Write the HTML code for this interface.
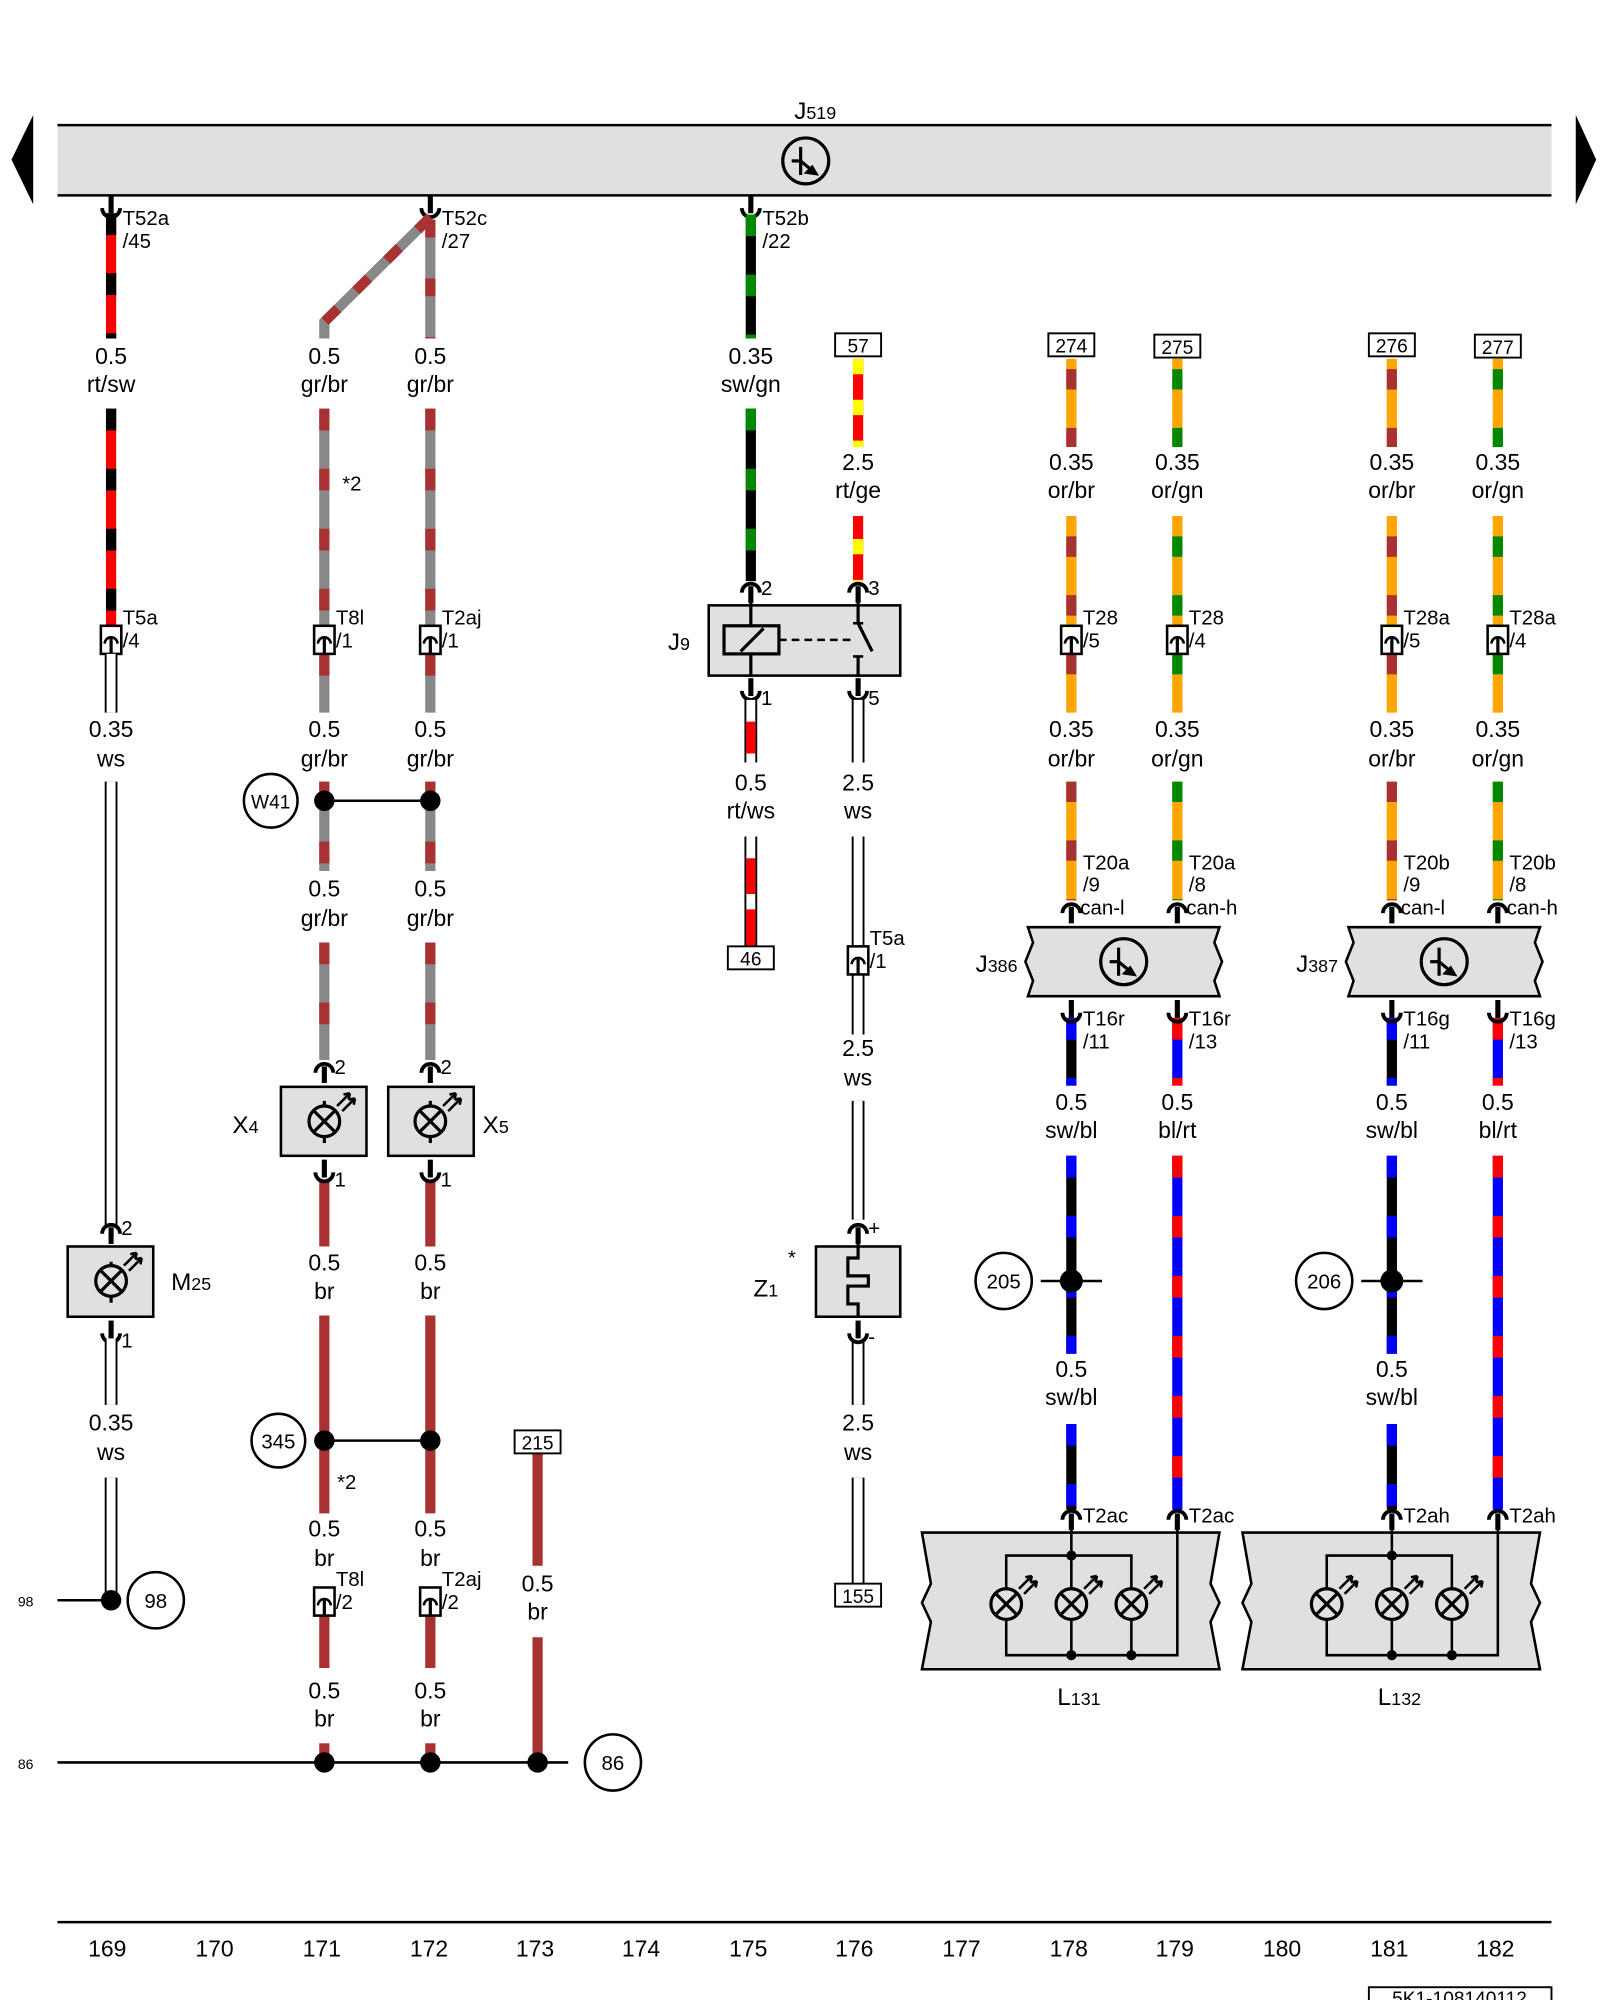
<!DOCTYPE html>
<html><head><meta charset="utf-8"><style>
html,body{margin:0;padding:0;background:#fff}
svg{display:block}
text{font-family:"Liberation Sans",sans-serif;fill:#000}
.t{font-size:18px;text-anchor:middle}
.s{font-size:16px}
.x{font-size:11px}
</style></head><body>
<svg width="1600" height="2000" viewBox="0 0 1253 1566" preserveAspectRatio="none" xmlns="http://www.w3.org/2000/svg">
<defs>
<g id="cd"><path d="M-7,1 A7,7 0 0 0 7,1" fill="none" stroke="#000" stroke-width="3"/><line x1="0" y1="-9" x2="0" y2="5" stroke="#000" stroke-width="4"/></g>
<g id="cu"><path d="M-7,4 A7,7 0 0 1 7,4" fill="none" stroke="#000" stroke-width="3"/><line x1="0" y1="-1" x2="0" y2="12" stroke="#000" stroke-width="4"/></g>
<g id="ib"><rect x="-8" y="-11" width="16" height="22" fill="#fff" stroke="#000" stroke-width="2"/><path d="M-5,3 A5,5 0 0 1 5,3" fill="none" stroke="#000" stroke-width="2"/><line x1="0" y1="-1" x2="0" y2="11" stroke="#000" stroke-width="2.5"/></g>
<g id="lamp" fill="none" stroke="#000" stroke-width="2.5"><circle r="12" fill="#e0e0e0"/><line x1="-8" y1="-8" x2="8" y2="8"/><line x1="-8" y1="8" x2="8" y2="-8"/><path d="M10,-12 L20,-22 M14,-8 L24,-18" stroke-width="2"/><path d="M20,-22 l-5,1 M20,-22 l-1,5 M24,-18 l-5,1 M24,-18 l-1,5" stroke-width="2"/></g>
<g id="ecu" fill="none" stroke="#000" stroke-width="2.5"><circle r="18"/><line x1="-4" y1="-11" x2="-4" y2="11"/><line x1="-11" y1="0" x2="-4" y2="0"/><line x1="-4" y1="0" x2="8" y2="10"/><path d="M8,10 l-7,-1 l4,-4 z" fill="#000"/></g>
</defs>

<!-- J519 bar -->
<rect x="45" y="98" width="1170" height="55" fill="#e0e0e0"/>
<line x1="45" y1="98" x2="1215" y2="98" stroke="#000" stroke-width="2"/>
<line x1="45" y1="153" x2="1215" y2="153" stroke="#000" stroke-width="2"/>
<polygon points="9,125 26,90 26,160" fill="#000"/>
<polygon points="1250,125 1234,90 1234,160" fill="#000"/>
<text x="622" y="93" style="font-size:19px">J<tspan style="font-size:14px">519</tspan></text>
<use href="#ecu" x="631" y="126"/>

<!-- ===== column 169 (x=87) ===== -->
<use href="#cd" x="87" y="162"/>
<line x1="87" y1="167" x2="87" y2="265" stroke="#f00" stroke-width="8"/><line x1="87" y1="167" x2="87" y2="265" stroke="#000" stroke-width="8" stroke-dasharray="17 30"/>
<text class="s" x="96" y="176">T52a</text><text class="s" x="96" y="194">/45</text>
<text class="t" x="87" y="285">0.5</text><text class="t" x="87" y="307">rt/sw</text>
<line x1="87" y1="320" x2="87" y2="490" stroke="#f00" stroke-width="8"/><line x1="87" y1="320" x2="87" y2="490" stroke="#000" stroke-width="8" stroke-dasharray="17 30"/>
<use href="#ib" x="87" y="501"/><text class="s" x="96" y="489">T5a</text><text class="s" x="96" y="507">/4</text>
<line x1="87" y1="512" x2="87" y2="558" stroke="#000" stroke-width="10"/><line x1="87" y1="512" x2="87" y2="558" stroke="#fff" stroke-width="7"/>
<text class="t" x="87" y="577">0.35</text><text class="t" x="87" y="600">ws</text>
<line x1="87" y1="612" x2="87" y2="960" stroke="#000" stroke-width="10"/><line x1="87" y1="612" x2="87" y2="960" stroke="#fff" stroke-width="7"/>
<rect x="53" y="976" width="67" height="55" fill="#e0e0e0" stroke="#000" stroke-width="2"/>
<use href="#cu" x="87" y="962"/><text class="s" x="95" y="967">2</text>
<line x1="87" y1="988" x2="87" y2="1020" stroke="#000" stroke-width="2.5"/>
<use href="#lamp" x="87" y="1003"/>
<use href="#cd" x="87" y="1043"/><text class="s" x="95" y="1055">1</text>
<text x="134" y="1010" style="font-size:19px">M<tspan style="font-size:14px">25</tspan></text>
<line x1="87" y1="1048" x2="87" y2="1100" stroke="#000" stroke-width="10"/><line x1="87" y1="1048" x2="87" y2="1100" stroke="#fff" stroke-width="7"/>
<text class="t" x="87" y="1120">0.35</text><text class="t" x="87" y="1143">ws</text>
<line x1="87" y1="1157" x2="87" y2="1250" stroke="#000" stroke-width="10"/><line x1="87" y1="1157" x2="87" y2="1250" stroke="#fff" stroke-width="7"/>
<line x1="45" y1="1253" x2="87" y2="1253" stroke="#000" stroke-width="2"/>
<circle cx="87" cy="1253" r="8" fill="#000"/>
<circle cx="122" cy="1253" r="22" fill="#fff" stroke="#000" stroke-width="2"/><text class="t" x="122" y="1259" style="font-size:16px">98</text>
<text class="x" x="14" y="1258">98</text>

<!-- ===== columns 171/172 ===== -->
<use href="#cd" x="337" y="162"/>
<text class="s" x="346" y="176">T52c</text><text class="s" x="346" y="194">/27</text>
<polyline points="337,170 254,252 254,265" fill="none" stroke="#888" stroke-width="8"/>
<polyline points="337,170 254,252 254,265" fill="none" stroke="#a83232" stroke-width="8" stroke-dasharray="14 20"/>
<line x1="337" y1="172" x2="337" y2="265" stroke="#888" stroke-width="8"/><line x1="337" y1="172" x2="337" y2="265" stroke="#a83232" stroke-width="8" stroke-dasharray="14 32"/>
<text class="t" x="254" y="285">0.5</text><text class="t" x="254" y="307">gr/br</text>
<text class="t" x="337" y="285">0.5</text><text class="t" x="337" y="307">gr/br</text>
<g stroke-width="8">
<line x1="254" y1="320" x2="254" y2="490" stroke="#888"/><line x1="254" y1="320" x2="254" y2="490" stroke="#a83232" stroke-dasharray="17 30"/>
<line x1="337" y1="320" x2="337" y2="490" stroke="#888"/><line x1="337" y1="320" x2="337" y2="490" stroke="#a83232" stroke-dasharray="17 30"/>
<line x1="254" y1="512" x2="254" y2="558" stroke="#888"/><line x1="254" y1="512" x2="254" y2="558" stroke="#a83232" stroke-dasharray="17 30"/>
<line x1="337" y1="512" x2="337" y2="558" stroke="#888"/><line x1="337" y1="512" x2="337" y2="558" stroke="#a83232" stroke-dasharray="17 30"/>
<line x1="254" y1="612" x2="254" y2="682" stroke="#888"/><line x1="254" y1="612" x2="254" y2="682" stroke="#a83232" stroke-dasharray="17 30"/>
<line x1="337" y1="612" x2="337" y2="682" stroke="#888"/><line x1="337" y1="612" x2="337" y2="682" stroke="#a83232" stroke-dasharray="17 30"/>
<line x1="254" y1="738" x2="254" y2="830" stroke="#888"/><line x1="254" y1="738" x2="254" y2="830" stroke="#a83232" stroke-dasharray="17 30"/>
<line x1="337" y1="738" x2="337" y2="830" stroke="#888"/><line x1="337" y1="738" x2="337" y2="830" stroke="#a83232" stroke-dasharray="17 30"/>
<g stroke="#a83232">
<line x1="254" y1="925" x2="254" y2="976"/><line x1="337" y1="925" x2="337" y2="976"/>
<line x1="254" y1="1030" x2="254" y2="1185"/><line x1="337" y1="1030" x2="337" y2="1185"/>
<line x1="254" y1="1265" x2="254" y2="1306"/><line x1="337" y1="1265" x2="337" y2="1306"/>
<line x1="254" y1="1365" x2="254" y2="1380"/><line x1="337" y1="1365" x2="337" y2="1380"/>
<line x1="421" y1="1138" x2="421" y2="1226"/><line x1="421" y1="1282" x2="421" y2="1380"/>
</g></g>
<text class="s" x="268" y="384">*2</text>
<use href="#ib" x="254" y="501"/><text class="s" x="263" y="489">T8l</text><text class="s" x="263" y="507">/1</text>
<use href="#ib" x="337" y="501"/><text class="s" x="346" y="489">T2aj</text><text class="s" x="346" y="507">/1</text>
<text class="t" x="254" y="577">0.5</text><text class="t" x="254" y="600">gr/br</text>
<text class="t" x="337" y="577">0.5</text><text class="t" x="337" y="600">gr/br</text>
<line x1="254" y1="627" x2="337" y2="627" stroke="#000" stroke-width="2"/>
<circle cx="254" cy="627" r="8" fill="#000"/><circle cx="337" cy="627" r="8" fill="#000"/>
<circle cx="212" cy="627" r="21" fill="#fff" stroke="#000" stroke-width="2"/><text class="t" x="212" y="633" style="font-size:15px">W41</text>
<text class="t" x="254" y="702">0.5</text><text class="t" x="254" y="725">gr/br</text>
<text class="t" x="337" y="702">0.5</text><text class="t" x="337" y="725">gr/br</text>
<rect x="220" y="851" width="67" height="54" fill="#e0e0e0" stroke="#000" stroke-width="2"/>
<rect x="304" y="851" width="67" height="54" fill="#e0e0e0" stroke="#000" stroke-width="2"/>
<use href="#cu" x="254" y="836"/><text class="s" x="262" y="841">2</text>
<use href="#cu" x="337" y="836"/><text class="s" x="345" y="841">2</text>
<line x1="254" y1="862" x2="254" y2="895" stroke="#000" stroke-width="2.5"/><line x1="337" y1="862" x2="337" y2="895" stroke="#000" stroke-width="2.5"/>
<use href="#lamp" x="254" y="878"/><use href="#lamp" x="337" y="878"/>
<use href="#cd" x="254" y="917"/><text class="s" x="262" y="929">1</text>
<use href="#cd" x="337" y="917"/><text class="s" x="345" y="929">1</text>
<text x="182" y="887" style="font-size:19px">X<tspan style="font-size:14px">4</tspan></text>
<text x="378" y="887" style="font-size:19px">X<tspan style="font-size:14px">5</tspan></text>
<text class="t" x="254" y="995">0.5</text><text class="t" x="254" y="1017">br</text>
<text class="t" x="337" y="995">0.5</text><text class="t" x="337" y="1017">br</text>
<line x1="254" y1="1128" x2="337" y2="1128" stroke="#000" stroke-width="2"/>
<circle cx="254" cy="1128" r="8" fill="#000"/><circle cx="337" cy="1128" r="8" fill="#000"/>
<circle cx="218" cy="1128" r="21" fill="#fff" stroke="#000" stroke-width="2"/><text class="t" x="218" y="1134" style="font-size:16px">345</text>
<text class="s" x="264" y="1166">*2</text>
<rect x="236" y="1188" width="36" height="40" fill="#fff"/><rect x="319" y="1188" width="36" height="40" fill="#fff"/>
<text class="t" x="254" y="1203">0.5</text><text class="t" x="254" y="1226">br</text>
<text class="t" x="337" y="1203">0.5</text><text class="t" x="337" y="1226">br</text>
<use href="#ib" x="254" y="1254"/><text class="s" x="263" y="1242">T8l</text><text class="s" x="263" y="1260">/2</text>
<use href="#ib" x="337" y="1254"/><text class="s" x="346" y="1242">T2aj</text><text class="s" x="346" y="1260">/2</text>
<text class="t" x="254" y="1330">0.5</text><text class="t" x="254" y="1352">br</text>
<text class="t" x="337" y="1330">0.5</text><text class="t" x="337" y="1352">br</text>
<rect x="403" y="1120" width="36" height="18" fill="#fff" stroke="#000" stroke-width="1.5"/><text class="t" x="421" y="1135" style="font-size:15px">215</text>
<text class="t" x="421" y="1246">0.5</text><text class="t" x="421" y="1268">br</text>
<line x1="45" y1="1380" x2="445" y2="1380" stroke="#000" stroke-width="2"/>
<circle cx="254" cy="1380" r="8" fill="#000"/><circle cx="337" cy="1380" r="8" fill="#000"/><circle cx="421" cy="1380" r="8" fill="#000"/>
<circle cx="480" cy="1380" r="22" fill="#fff" stroke="#000" stroke-width="2"/><text class="t" x="480" y="1386" style="font-size:16px">86</text>
<text class="x" x="14" y="1385">86</text>

<!-- ===== columns 175/176 ===== -->
<use href="#cd" x="588" y="162"/>
<text class="s" x="597" y="176">T52b</text><text class="s" x="597" y="194">/22</text>
<g stroke-width="8">
<line x1="588" y1="168" x2="588" y2="265" stroke="#000"/><line x1="588" y1="168" x2="588" y2="265" stroke="#080" stroke-dasharray="17 30"/>
<line x1="588" y1="320" x2="588" y2="455" stroke="#000"/><line x1="588" y1="320" x2="588" y2="455" stroke="#080" stroke-dasharray="17 30"/>
<line x1="672" y1="281" x2="672" y2="350" stroke="#f00"/><line x1="672" y1="281" x2="672" y2="350" stroke="#ff0" stroke-dasharray="12 20"/>
<line x1="672" y1="404" x2="672" y2="455" stroke="#f00"/><line x1="672" y1="404" x2="672" y2="455" stroke="#ff0" stroke-dasharray="12 20" stroke-dashoffset="-18"/>
</g>
<text class="t" x="588" y="285">0.35</text><text class="t" x="588" y="307">sw/gn</text>
<rect x="654" y="261" width="36" height="18" fill="#fff" stroke="#000" stroke-width="1.5"/><text class="t" x="672" y="276" style="font-size:15px">57</text>
<text class="t" x="672" y="368">2.5</text><text class="t" x="672" y="390">rt/ge</text>
<rect x="555" y="474" width="150" height="55" fill="#e0e0e0" stroke="#000" stroke-width="2"/>
<use href="#cu" x="588" y="460"/><text class="s" x="596" y="466">2</text>
<use href="#cu" x="672" y="460"/><text class="s" x="680" y="466">3</text>
<line x1="588" y1="472" x2="588" y2="530" stroke="#000" stroke-width="2.5"/>
<rect x="567" y="490" width="43" height="22" fill="#e0e0e0" stroke="#000" stroke-width="2.5"/>
<line x1="580" y1="510" x2="598" y2="492" stroke="#000" stroke-width="2.5"/>
<line x1="610" y1="501" x2="668" y2="501" stroke="#000" stroke-width="2" stroke-dasharray="6 4"/>
<line x1="672" y1="472" x2="672" y2="488" stroke="#000" stroke-width="2.5"/>
<line x1="668" y1="488" x2="676" y2="488" stroke="#000" stroke-width="2"/>
<line x1="672" y1="488" x2="683" y2="510" stroke="#000" stroke-width="2.5"/>
<line x1="672" y1="514" x2="672" y2="530" stroke="#000" stroke-width="2.5"/>
<line x1="668" y1="514" x2="676" y2="514" stroke="#000" stroke-width="2"/>
<text x="523" y="509" style="font-size:19px">J<tspan style="font-size:14px">9</tspan></text>
<use href="#cd" x="588" y="540"/><text class="s" x="596" y="552">1</text>
<use href="#cd" x="672" y="540"/><text class="s" x="680" y="552">5</text>
<g>
<line x1="588" y1="548" x2="588" y2="597" stroke="#000" stroke-width="10"/><line x1="588" y1="548" x2="588" y2="597" stroke="#fff" stroke-width="7"/><line x1="588" y1="565" x2="588" y2="590" stroke="#f00" stroke-width="7"/>
<line x1="588" y1="655" x2="588" y2="741" stroke="#000" stroke-width="10"/><line x1="588" y1="655" x2="588" y2="741" stroke="#fff" stroke-width="7"/><line x1="588" y1="672" x2="588" y2="700" stroke="#f00" stroke-width="7"/><line x1="588" y1="712" x2="588" y2="741" stroke="#f00" stroke-width="7"/>
<line x1="672" y1="548" x2="672" y2="597" stroke="#000" stroke-width="10"/><line x1="672" y1="548" x2="672" y2="597" stroke="#fff" stroke-width="7"/>
<line x1="672" y1="655" x2="672" y2="810" stroke="#000" stroke-width="10"/><line x1="672" y1="655" x2="672" y2="810" stroke="#fff" stroke-width="7"/>
<line x1="672" y1="862" x2="672" y2="955" stroke="#000" stroke-width="10"/><line x1="672" y1="862" x2="672" y2="955" stroke="#fff" stroke-width="7"/>
<line x1="672" y1="1048" x2="672" y2="1100" stroke="#000" stroke-width="10"/><line x1="672" y1="1048" x2="672" y2="1100" stroke="#fff" stroke-width="7"/>
<line x1="672" y1="1157" x2="672" y2="1240" stroke="#000" stroke-width="10"/><line x1="672" y1="1157" x2="672" y2="1240" stroke="#fff" stroke-width="7"/>
</g>
<text class="t" x="588" y="619">0.5</text><text class="t" x="588" y="641">rt/ws</text>
<text class="t" x="672" y="619">2.5</text><text class="t" x="672" y="641">ws</text>
<rect x="570" y="741" width="36" height="18" fill="#fff" stroke="#000" stroke-width="1.5"/><text class="t" x="588" y="756" style="font-size:15px">46</text>
<use href="#ib" x="672" y="752"/><text class="s" x="681" y="740">T5a</text><text class="s" x="681" y="758">/1</text>
<text class="t" x="672" y="827">2.5</text><text class="t" x="672" y="850">ws</text>
<rect x="639" y="976" width="66" height="55" fill="#e0e0e0" stroke="#000" stroke-width="2"/>
<use href="#cu" x="672" y="962"/><text class="s" x="680" y="967">+</text>
<path d="M672,974 V985 H664 V999 H680 V1007 H664 V1021 H672 V1032" fill="none" stroke="#000" stroke-width="2.5"/>
<use href="#cd" x="672" y="1043"/><text class="s" x="680" y="1052">-</text>
<text x="590" y="1015" style="font-size:19px">Z<tspan style="font-size:14px">1</tspan></text><text class="s" x="617" y="990">*</text>
<text class="t" x="672" y="1120">2.5</text><text class="t" x="672" y="1143">ws</text>
<rect x="654" y="1240" width="36" height="18" fill="#fff" stroke="#000" stroke-width="1.5"/><text class="t" x="672" y="1255" style="font-size:15px">155</text>

<!-- ===== CAN columns ===== -->
<g id="canA">
<g stroke-width="8">
<line x1="839" y1="281" x2="839" y2="350" stroke="#ffa500"/><line x1="839" y1="281" x2="839" y2="350" stroke="#a83232" stroke-dasharray="16 30" stroke-dashoffset="-8"/>
<line x1="839" y1="404" x2="839" y2="490" stroke="#ffa500"/><line x1="839" y1="404" x2="839" y2="490" stroke="#a83232" stroke-dasharray="16 30" stroke-dashoffset="-16"/>
<line x1="839" y1="512" x2="839" y2="558" stroke="#ffa500"/><line x1="839" y1="512" x2="839" y2="558" stroke="#a83232" stroke-dasharray="16 30"/>
<line x1="839" y1="612" x2="839" y2="705" stroke="#ffa500"/><line x1="839" y1="612" x2="839" y2="705" stroke="#a83232" stroke-dasharray="16 30"/>
<line x1="922" y1="281" x2="922" y2="350" stroke="#ffa500"/><line x1="922" y1="281" x2="922" y2="350" stroke="#080" stroke-dasharray="16 30" stroke-dashoffset="-8"/>
<line x1="922" y1="404" x2="922" y2="490" stroke="#ffa500"/><line x1="922" y1="404" x2="922" y2="490" stroke="#080" stroke-dasharray="16 30" stroke-dashoffset="-16"/>
<line x1="922" y1="512" x2="922" y2="558" stroke="#ffa500"/><line x1="922" y1="512" x2="922" y2="558" stroke="#080" stroke-dasharray="16 30"/>
<line x1="922" y1="612" x2="922" y2="705" stroke="#ffa500"/><line x1="922" y1="612" x2="922" y2="705" stroke="#080" stroke-dasharray="16 30"/>
<line x1="839" y1="797" x2="839" y2="850" stroke="#000"/><line x1="839" y1="797" x2="839" y2="850" stroke="#00f" stroke-dasharray="17 30"/>
<line x1="839" y1="905" x2="839" y2="1060" stroke="#000"/><line x1="839" y1="905" x2="839" y2="1060" stroke="#00f" stroke-dasharray="17 30"/>
<line x1="839" y1="1115" x2="839" y2="1182" stroke="#000"/><line x1="839" y1="1115" x2="839" y2="1182" stroke="#00f" stroke-dasharray="17 30"/>
<line x1="922" y1="797" x2="922" y2="850" stroke="#00f"/><line x1="922" y1="797" x2="922" y2="850" stroke="#f00" stroke-dasharray="17 30"/>
<line x1="922" y1="905" x2="922" y2="1182" stroke="#00f"/><line x1="922" y1="905" x2="922" y2="1182" stroke="#f00" stroke-dasharray="17 30"/>
</g>
<rect x="821" y="261" width="36" height="18" fill="#fff" stroke="#000" stroke-width="1.5"/>
<rect x="904" y="262" width="36" height="18" fill="#fff" stroke="#000" stroke-width="1.5"/>
<text class="t" x="839" y="368">0.35</text><text class="t" x="839" y="390">or/br</text>
<text class="t" x="922" y="368">0.35</text><text class="t" x="922" y="390">or/gn</text>
<use href="#ib" x="839" y="501"/><use href="#ib" x="922" y="501"/>
<text class="t" x="839" y="577">0.35</text><text class="t" x="839" y="600">or/br</text>
<text class="t" x="922" y="577">0.35</text><text class="t" x="922" y="600">or/gn</text>
<use href="#cu" x="839" y="711"/><use href="#cu" x="922" y="711"/>
<polygon points="805,726 955,726 951,738 957,753 951,768 955,780 805,780 809,768 803,753 809,738" fill="#e0e0e0" stroke="#000" stroke-width="2"/>
<use href="#ecu" x="880" y="753"/>
<use href="#cd" x="839" y="792"/><use href="#cd" x="922" y="792"/>
<text class="t" x="839" y="869">0.5</text><text class="t" x="839" y="891">sw/bl</text>
<text class="t" x="922" y="869">0.5</text><text class="t" x="922" y="891">bl/rt</text>
<line x1="815" y1="1003" x2="863" y2="1003" stroke="#000" stroke-width="2"/>
<circle cx="839" cy="1003" r="9" fill="#000"/>
<text class="t" x="839" y="1078">0.5</text><text class="t" x="839" y="1100">sw/bl</text>
<use href="#cu" x="839" y="1186"/><use href="#cu" x="922" y="1186"/>
<polygon points="722,1200 955,1200 948,1240 955,1255 948,1270 955,1307 722,1307 729,1270 722,1255 729,1240" fill="#e0e0e0" stroke="#000" stroke-width="2"/>
<g fill="none" stroke="#000" stroke-width="2">
<line x1="839" y1="1198" x2="839" y2="1296"/>
<path d="M922,1198 V1296 H788 V1218 H886 V1296"/>
</g>
<circle cx="839" cy="1218" r="4" fill="#000"/><circle cx="839" cy="1296" r="4" fill="#000"/><circle cx="886" cy="1296" r="4" fill="#000"/>
<use href="#lamp" x="788" y="1256"/><use href="#lamp" x="839" y="1256"/><use href="#lamp" x="886" y="1256"/>
</g>
<use href="#canA" x="251" y="0"/>

<text class="t" x="839" y="276" style="font-size:15px">274</text>
<text class="t" x="922" y="277" style="font-size:15px">275</text>
<text class="t" x="1090" y="276" style="font-size:15px">276</text>
<text class="t" x="1173" y="277" style="font-size:15px">277</text>
<text class="s" x="848" y="489">T28</text><text class="s" x="848" y="507">/5</text>
<text class="s" x="931" y="489">T28</text><text class="s" x="931" y="507">/4</text>
<text class="s" x="1099" y="489">T28a</text><text class="s" x="1099" y="507">/5</text>
<text class="s" x="1182" y="489">T28a</text><text class="s" x="1182" y="507">/4</text>
<text class="s" x="848" y="681">T20a</text><text class="s" x="848" y="698">/9</text><text class="s" x="846" y="716">can-l</text>
<text class="s" x="931" y="681">T20a</text><text class="s" x="931" y="698">/8</text><text class="s" x="929" y="716">can-h</text>
<text class="s" x="1099" y="681">T20b</text><text class="s" x="1099" y="698">/9</text><text class="s" x="1097" y="716">can-l</text>
<text class="s" x="1182" y="681">T20b</text><text class="s" x="1182" y="698">/8</text><text class="s" x="1180" y="716">can-h</text>
<text x="764" y="761" style="font-size:19px">J<tspan style="font-size:14px">386</tspan></text>
<text x="1015" y="761" style="font-size:19px">J<tspan style="font-size:14px">387</tspan></text>
<text class="s" x="848" y="803">T16r</text><text class="s" x="848" y="821">/11</text>
<text class="s" x="931" y="803">T16r</text><text class="s" x="931" y="821">/13</text>
<text class="s" x="1099" y="803">T16g</text><text class="s" x="1099" y="821">/11</text>
<text class="s" x="1182" y="803">T16g</text><text class="s" x="1182" y="821">/13</text>
<circle cx="786" cy="1003" r="22" fill="#fff" stroke="#000" stroke-width="2"/><text class="t" x="786" y="1009" style="font-size:16px">205</text>
<circle cx="1037" cy="1003" r="22" fill="#fff" stroke="#000" stroke-width="2"/><text class="t" x="1037" y="1009" style="font-size:16px">206</text>
<text class="s" x="848" y="1192">T2ac</text><text class="s" x="931" y="1192">T2ac</text>
<text class="s" x="1099" y="1192">T2ah</text><text class="s" x="1182" y="1192">T2ah</text>
<text x="828" y="1335" style="font-size:19px">L<tspan style="font-size:14px">131</tspan></text>
<text x="1079" y="1335" style="font-size:19px">L<tspan style="font-size:14px">132</tspan></text>

<!-- axis -->
<line x1="45" y1="1505" x2="1215" y2="1505" stroke="#000" stroke-width="2"/>
<g class="t">
<text class="t" x="84" y="1532">169</text><text class="t" x="168" y="1532">170</text><text class="t" x="252" y="1532">171</text>
<text class="t" x="336" y="1532">172</text><text class="t" x="419" y="1532">173</text><text class="t" x="502" y="1532">174</text>
<text class="t" x="586" y="1532">175</text><text class="t" x="669" y="1532">176</text><text class="t" x="753" y="1532">177</text>
<text class="t" x="837" y="1532">178</text><text class="t" x="920" y="1532">179</text><text class="t" x="1004" y="1532">180</text>
<text class="t" x="1088" y="1532">181</text><text class="t" x="1171" y="1532">182</text>
</g>
<rect x="1072" y="1556" width="143" height="20" fill="#fff" stroke="#000" stroke-width="1.5"/>
<text class="t" x="1143" y="1570" style="font-size:15px">5K1-108140112</text>
</svg>
</body></html>
